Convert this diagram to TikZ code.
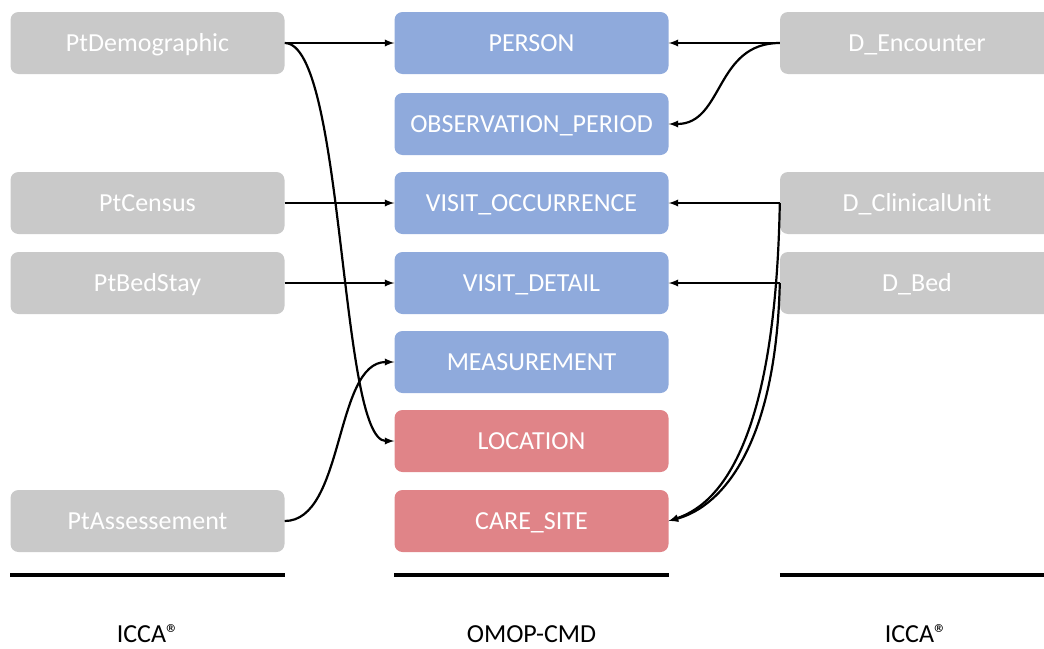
\documentclass[tikz,border=0pt]{standalone}
\usepackage{fontspec}
\setmainfont{Carlito}
\begin{document}
\begin{tikzpicture}[x=1pt,y=-1pt,
        tbl/.style={rounded corners=8pt,minimum width=274pt,minimum height=62pt,
            inner sep=0pt,text=white,text height=22pt,text depth=5pt,
            font=\fontsize{26}{30}\selectfont},
        icca/.style={tbl,fill=srcgray},
        omop/.style={tbl,fill=omopblue},
        omopsite/.style={tbl,fill=omopred},
        lnk/.style={-latex,line width=2.2pt},
        bar/.style={line width=4pt},
        coltitle/.style={font=\fontsize{26}{30}\selectfont}]%
        \definecolor{srcgray}{HTML}{C9C9C9}
        \definecolor{omopblue}{HTML}{8FAADC}
        \definecolor{omopred}{HTML}{E08488}
        \useasboundingbox (0,0) rectangle (1044,648);
        \begin{scope}
        \clip (0,0) rectangle (1044,648);
        % ICCA (left)
        \node[icca] (ptdemo) at (147.5,43) {PtDemographic};
        \node[icca] (ptcensus) at (147.5,203) {PtCensus};
        \node[icca] (ptbed) at (147.5,283) {PtBedStay};
        \node[icca] (ptassess) at (147.5,521) {PtAssessement};
        % OMOP-CMD
        \node[omop] (person) at (531.5,43) {PERSON};
        \node[omop] (obsper) at (531.5,124) {OBSERVATION\_PERIOD};
        \node[omop] (visocc) at (531.5,203) {VISIT\_OCCURRENCE};
        \node[omop] (visdet) at (531.5,283) {VISIT\_DETAIL};
        \node[omop] (meas) at (531.5,362) {MEASUREMENT};
        \node[omopsite] (loc) at (531.5,441) {LOCATION};
        \node[omopsite] (site) at (531.5,521) {CARE\_SITE};
        % ICCA (right)
        \node[icca] (denc) at (917,43) {D\_Encounter};
        \node[icca] (dunit) at (917,203) {D\_ClinicalUnit};
        \node[icca] (dbed) at (917,283) {D\_Bed};
        % links
        \draw[lnk] (ptdemo.east) -- (person.west);
        \draw[lnk] (ptdemo.east) .. controls +(60,0) and +(-55,0) .. (loc.west);
        \draw[lnk] (ptcensus.east) -- (visocc.west);
        \draw[lnk] (ptbed.east) -- (visdet.west);
        \draw[lnk] (ptassess.east) .. controls +(60,0) and +(-60,0) .. (meas.west);
        \draw[lnk] (denc.west) -- (person.east);
        \draw[lnk] (denc.west) .. controls +(-65,0) and +(55,0) .. (obsper.east);
        \draw[lnk] (dunit.west) -- (visocc.east);
        \draw[lnk] (dbed.west) -- (visdet.east);
        \draw[lnk] (dunit.west) .. controls +(-4,220) and +(60,-20) .. (site.east);
        \draw[lnk] (dbed.west) .. controls +(-4,160) and +(55,-15) .. (site.east);
        % bars
        \draw[bar] (ptassess.west |- 0,575) -- (ptassess.east |- 0,575);
        \draw[bar] (site.west |- 0,575) -- (site.east |- 0,575);
        \draw[bar] (dbed.west |- 0,575) -- (dbed.east |- 0,575);
        \end{scope}
        \node[coltitle] (lefttitle) at (148,634) {ICCA®};
        \node[coltitle] (midtitle) at (531.5,634) {OMOP-CMD};
        \node[coltitle] (righttitle) at (916,634) {ICCA®};
    \end{tikzpicture}
\end{document}
